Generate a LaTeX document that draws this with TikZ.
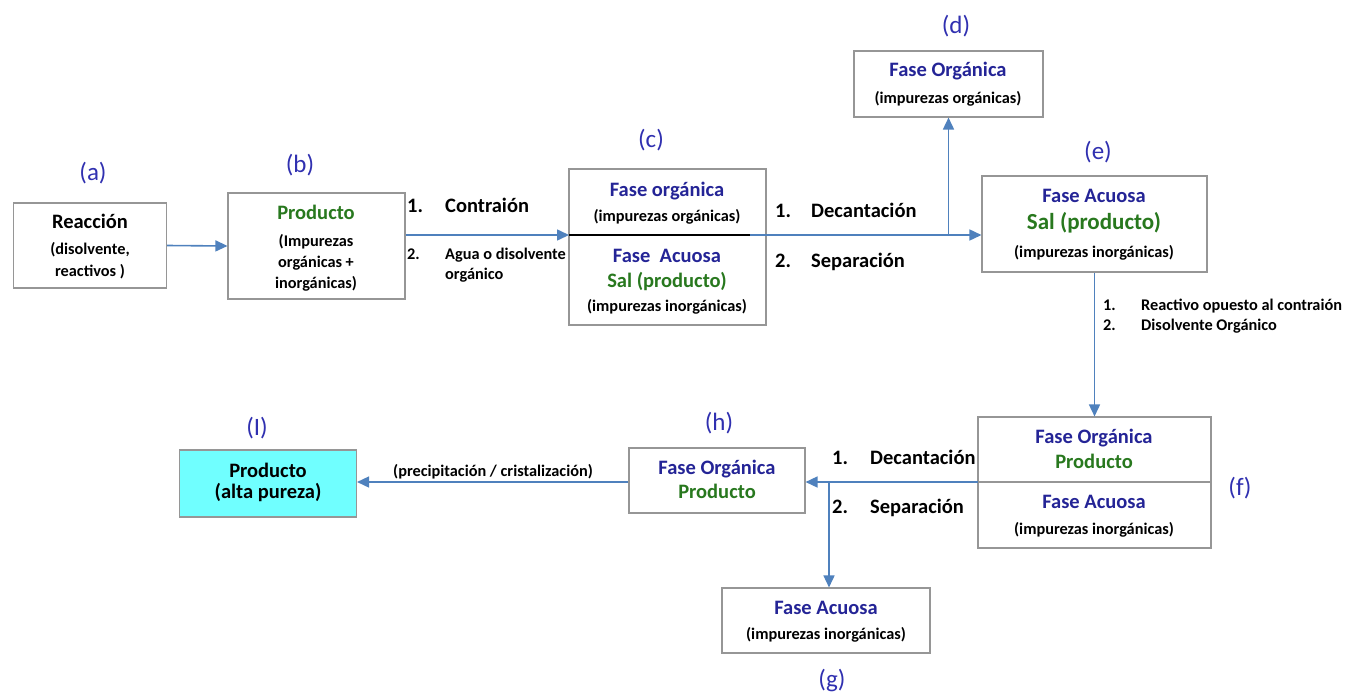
\documentclass[tikz,border=0pt]{standalone}
\usepackage{fontspec}
\setmainfont{Carlito}
\usetikzlibrary{arrows.meta}
\definecolor{lblblue}{RGB}{48,48,176}
\definecolor{txtblue}{RGB}{36,36,150}
\definecolor{txtgreen}{RGB}{40,120,30}
\definecolor{arrblue}{RGB}{79,129,189}
\definecolor{boxgray}{RGB}{150,150,150}
\definecolor{cyanfill}{RGB}{112,255,255}
\tikzset{
  box/.style={draw=boxgray, line width=1.1pt, rectangle, inner sep=0pt},
  lbl/.style={font=\fontsize{25}{27}\selectfont, text=lblblue, inner sep=0pt},
  big/.style={font=\bfseries\fontsize{20.5}{22}\selectfont, inner sep=0pt, text height=1.0em, text depth=0em},
  sml/.style={font=\bfseries\fontsize{16.3}{18}\selectfont, inner sep=0pt, text height=1.0em, text depth=0em},
  bl/.style={text=txtblue},
  gr/.style={text=txtgreen},
  arr/.style={draw=arrblue, line width=1.6pt, -{Triangle[length=12pt,width=11pt]}},
}
\begin{document}
\begin{tikzpicture}[x=1pt,y=-1pt]
\useasboundingbox (0,0) rectangle (1348,693);
% boxes
\node[box, minimum width=153pt, minimum height=85pt] (a) at (90,245.5) {};
\node[box, minimum width=177pt, minimum height=106pt] (b) at (316.5,246) {};
\node[box, minimum width=197pt, minimum height=156pt] (c) at (667.5,247) {};
\node[box, minimum width=189pt, minimum height=66pt] (d) at (948.5,84) {};
\node[box, minimum width=225pt, minimum height=96pt] (e) at (1094.5,224) {};
\node[box, minimum width=233pt, minimum height=131pt] (f) at (1094.5,482.5) {};
\node[box, minimum width=176pt, minimum height=65pt] (h) at (717,480.5) {};
\node[box, minimum width=208pt, minimum height=65pt] (g) at (826,620.5) {};
\node[box, fill=cyanfill, minimum width=177pt, minimum height=67pt] (I) at (268,483.5) {};
% dividers
\coordinate (cdl) at (569,235);
\coordinate (cdr) at (766,235);
\coordinate (cds) at (750,235);
\draw[black, line width=1.1pt] (cdl) -- (cdr);
\coordinate (fdl) at (978,482);
\coordinate (fdr) at (1211,482);
\draw[boxgray, line width=1.1pt] (fdl) -- (fdr);
% labels
\node[lbl] (la) at (93,173) {(a)};
\node[lbl] (lb) at (300,165) {(b)};
\node[lbl] (lc) at (651,140) {(c)};
\node[lbl] (ld) at (956,26) {(d)};
\node[lbl] (le) at (1098,152) {(e)};
\node[lbl] (lf) at (1240,488) {(f)};
\node[lbl] (lg) at (832,680) {(g)};
\node[lbl] (lh) at (719,423) {(h)};
\node[lbl] (lI) at (257,428) {(I)};
% box a
\node[big] (a1) at (90,223) {Reacción};
\node[sml] (a2) at (90,249) {(disolvente,};
\node[sml] (a3) at (90,271) {reactivos )};
% box b
\node[big, gr] (b1) at (316,214) {Producto};
\node[sml] (b2) at (316,241) {(Impurezas};
\node[sml] (b3) at (316,262) {orgánicas +};
\node[sml] (b4) at (316,283) {inorgánicas)};
% box c
\node[big, bl] (c1) at (667,191) {Fase orgánica};
\node[sml] (c2) at (667,216) {(impurezas orgánicas)};
\node[big, bl] (c3) at (667,257) {Fase\ \ Acuosa};
\node[big, gr] (c4) at (667,282) {Sal (producto)};
\node[sml] (c5) at (667,306) {(impurezas inorgánicas)};
% box d
\node[big, bl] (d1) at (948,72) {Fase Orgánica};
\node[sml] (d2) at (948,98) {(impurezas orgánicas)};
% box e
\node[big, bl] (e1) at (1094,197) {Fase Acuosa};
\node[big, gr, font=\bfseries\fontsize{23}{25}\selectfont] (e2) at (1094,224) {Sal (producto)};
\node[sml] (e3) at (1094,252) {(impurezas inorgánicas)};
% box f
\node[big, bl] (f1) at (1094,438) {Fase Orgánica};
\node[big, gr] (f2) at (1094,463) {Producto};
\node[big, bl] (f3) at (1094,503) {Fase Acuosa};
\node[sml] (f4) at (1094,529) {(impurezas inorgánicas)};
% box h
\node[big, bl] (h1) at (717,469) {Fase Orgánica};
\node[big, gr] (h2) at (717,493) {Producto};
% box g
\node[big, bl] (g1) at (826,609) {Fase Acuosa};
\node[sml] (g2) at (826,634) {(impurezas inorgánicas)};
% box I
\node[big] (I1) at (268,472) {Producto};
\node[big] (I2) at (268,493) {(alta pureza)};
% step texts b->c
\node[big, anchor=west] (s1n) at (407,207) {1.};
\node[big, anchor=west] (s1t) at (445,207) {Contraión};
\node[sml, anchor=west] (s2n) at (407,254) {2.};
\node[sml, anchor=west] (s2t) at (445,254) {Agua o disolvente};
\node[sml, anchor=west] (s2u) at (445,274) {orgánico};
% step texts c->e
\node[big, anchor=west] (t1n) at (775,212) {1.};
\node[big, anchor=west] (t1t) at (811,212) {Decantación};
\node[big, anchor=west] (t2n) at (775,262) {2.};
\node[big, anchor=west] (t2t) at (811,262) {Separación};
% step texts e->f
\node[sml, anchor=west] (u1n) at (1103,305) {1.};
\node[sml, anchor=west] (u1t) at (1141,305) {Reactivo opuesto al contraión};
\node[sml, anchor=west] (u2n) at (1103,325) {2.};
\node[sml, anchor=west] (u2t) at (1141,325) {Disolvente Orgánico};
% step texts f->h
\node[big, anchor=west] (v1n) at (832,459) {1.};
\node[big, anchor=west] (v1t) at (870,459) {Decantación};
\node[big, anchor=west] (v2n) at (832,508) {2.};
\node[big, anchor=west] (v2t) at (870,508) {Separación};
% h->I text
\node[sml] (w1) at (493,471) {(precipitación / cristalización)};
% connectors
\draw[arr] (a.east) -- (b.west);
\draw[arr] (b.east |- cdl) -- (cdl);
\coordinate (cj) at (948.5,235);
\draw[arr] (cds) -- (e.west |- cds);
\draw[arr] (cj) -- (d.south);
\draw[arr] (e.south) -- (f.north);
\coordinate (fj) at (829,482);
\draw[arr] (fdl) -- (h.east |- fdl);
\draw[arr] (fj) -- (fj |- g.north);
\draw[arr] (h.west |- fdl) -- (I.east |- fdl);
\end{tikzpicture}
\end{document}
